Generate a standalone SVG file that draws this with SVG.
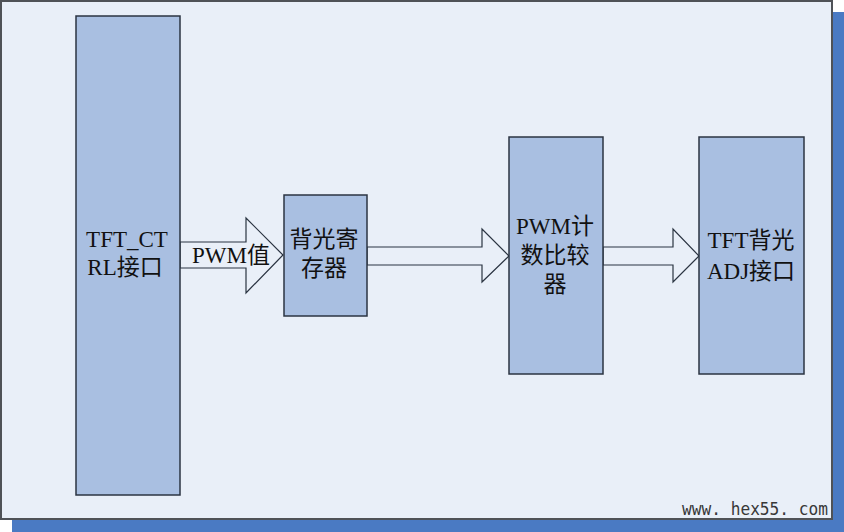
<svg xmlns="http://www.w3.org/2000/svg" width="844" height="532" viewBox="0 0 844 532">
<style>
.box{fill:#A9BFE1;stroke:#2B3442;stroke-width:1.5}
.arrow{fill:#E9EFF8;stroke:#2B3442;stroke-width:1.2;stroke-linejoin:miter}
.lbl{font-family:"Liberation Serif","Noto Sans CJK SC",serif;font-size:23px;fill:#111;text-anchor:middle}
.wm{font-family:"DejaVu Sans Mono","Liberation Mono",monospace;font-size:17px;fill:#383838}
</style>
<rect x="12" y="12" width="832" height="520" fill="#4A7AC3"/>
<rect x="1" y="1" width="831" height="518" fill="#E9EFF8" stroke="#4F5257" stroke-width="2"/>
<g id="connectors">
<polygon class="arrow" points="180,242 246,242 246,218 283,255 246,293 246,268 180,268"/>
<polygon class="arrow" points="367,247 482,247 482,229 509,256 482,282 482,265 367,265"/>
<polygon class="arrow" points="603,247 673,247 673,229 699,256 673,282 673,265 603,265"/>
</g>
<text class="lbl" x="231" y="263">PWM值</text>
<g id="tft_ctrl">
<rect class="box" x="76" y="16" width="104" height="479"/>
<text class="lbl" x="127" y="247">TFT_CT</text>
<text class="lbl" x="125" y="275">RL接口</text>
</g>
<g id="backlight_reg">
<rect class="box" x="284" y="195" width="83" height="121"/>
<text class="lbl" x="324" y="247">背光寄</text>
<text class="lbl" x="324" y="276">存器</text>
</g>
<g id="pwm_cmp">
<rect class="box" x="509" y="137" width="94" height="237"/>
<text class="lbl" x="555" y="234">PWM计</text>
<text class="lbl" x="555" y="263">数比较</text>
<text class="lbl" x="555" y="292">器</text>
</g>
<g id="tft_adj">
<rect class="box" x="699" y="137" width="105" height="237"/>
<text class="lbl" x="751" y="248">TFT背光</text>
<text class="lbl" x="751" y="279">ADJ接口</text>
</g>
<text class="wm" x="682" y="515" textLength="146" lengthAdjust="spacingAndGlyphs">www. hex55. com</text>
</svg>
